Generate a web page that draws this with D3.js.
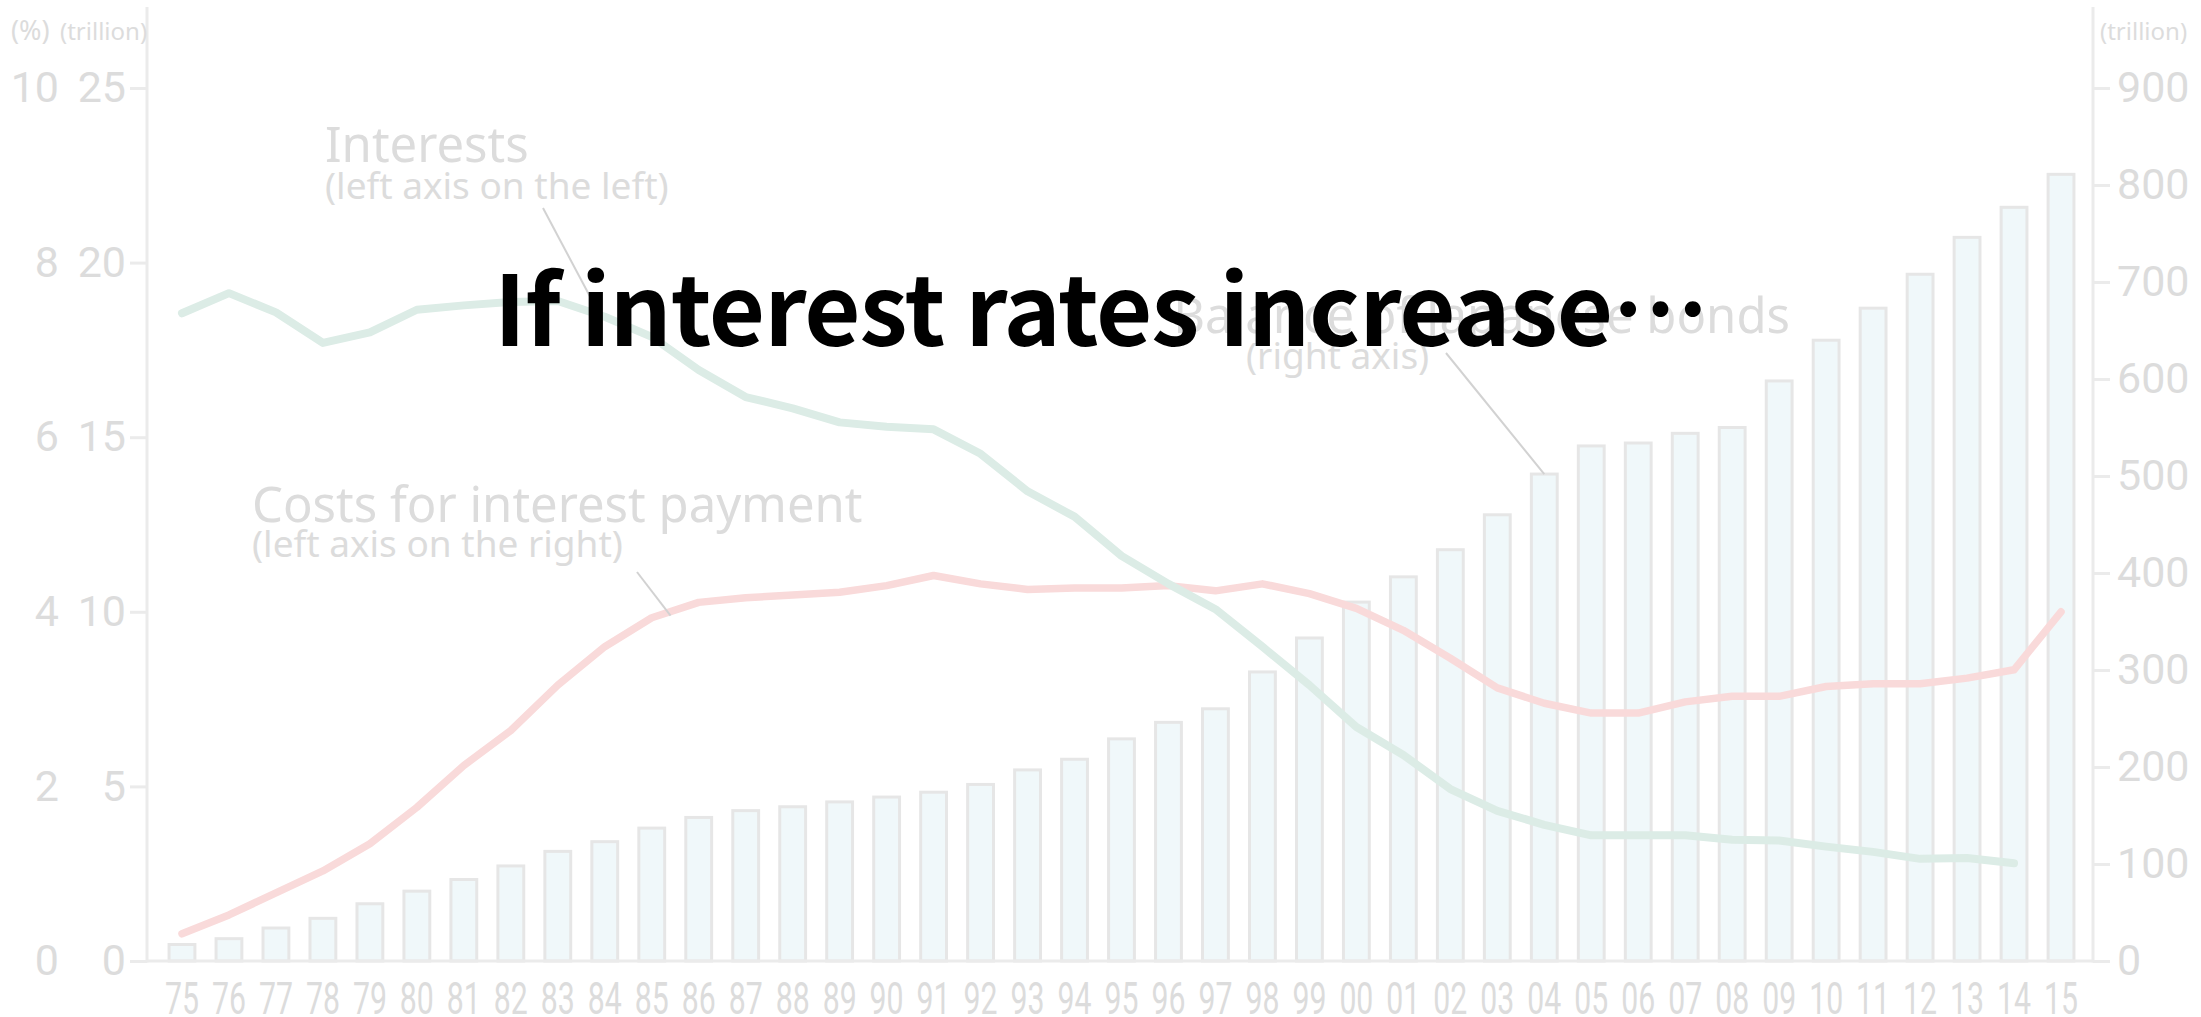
<!DOCTYPE html>
<html>
<head>
<meta charset="utf-8">
<script src="https://cdn.jsdelivr.net/npm/d3@7"></script>
<style>
  body { margin: 0; background: #fff; }
  svg { display: block; }
</style>
</head>
<body>
<div id="chart"></div>
<script>
// fiscal years (two digit labels)
const years = ["75","76","77","78","79","80","81","82","83","84","85","86","87","88","89","90",
  "91","92","93","94","95","96","97","98","99","00","01","02","03","04","05","06","07","08",
  "09","10","11","12","13","14","15"];

// outstanding bonds, trillion (right axis)
const bonds = [17,23,34,44,59,72,84,98,113,123,137,148,155,159,164,169,174,182,197,208,229,
  246,260,298,333,370,396,424,460,502,531,534,544,550,598,640,673,708,746,777,811];

// costs for interest payment, trillion (left axis, right column)
const costs = [0.78,1.32,1.95,2.58,3.36,4.4,5.6,6.6,7.9,9.0,9.83,10.27,10.4,10.48,10.56,10.75,
  11.04,10.8,10.64,10.68,10.68,10.75,10.6,10.8,10.52,10.1,9.47,8.67,7.82,7.38,7.1,7.1,7.42,
  7.58,7.58,7.86,7.94,7.94,8.1,8.34,10.0];

// interest rate, % (left axis, left column) -- no value for 15
const interests = [7.42,7.65,7.43,7.08,7.2,7.46,7.51,7.55,7.56,7.38,7.15,6.77,6.46,6.33,6.17,
  6.12,6.09,5.81,5.38,5.09,4.64,4.32,4.03,3.6,3.16,2.68,2.36,1.97,1.72,1.56,1.44,1.44,1.44,
  1.39,1.38,1.31,1.25,1.17,1.18,1.12];

const trillionTicks = [0,5,10,15,20,25];
const percentTicks = [0,2,4,6,8,10];
const rightTicks = [0,100,200,300,400,500,600,700,800,900];

(function debtChart(){
  const width = 2201, height = 1017;
  const left = 147, right = 2093, bottom = 961, top = 88;
  const gray = "#dcdcdc", axisGray = "#ebebeb";

  const x = d3.scaleBand().domain(years).range([158.5, 2084.5])
      .paddingInner(0.45).paddingOuter(0.225);
  const cx = d => x(d) + x.bandwidth() / 2;
  const yL = d3.scaleLinear().domain([0, 25]).range([bottom, top]);
  const yP = d3.scaleLinear().domain([0, 10]).range([bottom, top]);
  const yR = d3.scaleLinear().domain([0, 900]).range([bottom, top]);

  const svg = d3.select("#chart").append("svg")
      .attr("width", width)
      .attr("height", height)
      .attr("viewBox", [0, 0, width, height]);

  // bars
  svg.append("g")
    .selectAll("rect")
    .data(years)
    .join("rect")
      .attr("x", d => x(d))
      .attr("width", x.bandwidth())
      .attr("y", (d, i) => yR(bonds[i]))
      .attr("height", (d, i) => yR(0) - yR(bonds[i]))
      .attr("fill", "#f0f8fa")
      .attr("stroke", "#e6e6e6")
      .attr("stroke-width", 3);

  // axes
  const styleAxis = g => {
    g.select(".domain").remove();
    g.selectAll(".tick line").attr("stroke", axisGray).attr("stroke-width", 3);
    g.selectAll(".tick text").attr("fill", gray)
      .attr("font-family", "Roboto").attr("font-size", 43);
  };

  svg.append("g")
      .attr("transform", `translate(${left},0)`)
      .call(d3.axisLeft(yL).tickValues(trillionTicks).tickSize(17).tickPadding(4))
      .call(styleAxis);

  svg.append("g")
      .attr("transform", `translate(63,0)`)
      .call(d3.axisLeft(yP).tickValues(percentTicks).tickSize(0).tickPadding(4))
      .call(styleAxis);

  svg.append("g")
      .attr("transform", `translate(${right},0)`)
      .call(d3.axisRight(yR).tickValues(rightTicks).tickSize(17).tickPadding(7))
      .call(styleAxis);

  svg.append("g")
      .attr("transform", `translate(0,${bottom})`)
      .call(d3.axisBottom(x).tickSize(0).tickPadding(21))
      .call(g => g.select(".domain").remove())
      .call(g => g.selectAll(".tick text")
          .attr("fill", gray)
          .attr("font-family", "Roboto")
          .attr("font-size", 45)
          .attr("textLength", 34)
          .attr("lengthAdjust", "spacingAndGlyphs"));

  // axis lines
  const axisLines = svg.append("g").attr("stroke", axisGray).attr("stroke-width", 3);
  axisLines.append("line").attr("x1", left).attr("x2", left).attr("y1", 7).attr("y2", bottom + 1.5);
  axisLines.append("line").attr("x1", right).attr("x2", right).attr("y1", 7).attr("y2", bottom + 1.5);
  axisLines.append("line").attr("x1", left).attr("x2", right).attr("y1", bottom).attr("y2", bottom);

  // unit labels
  const units = svg.append("g").attr("fill", gray).attr("font-family", "Noto Sans").attr("font-size", 24);
  units.append("text").attr("x", 11).attr("y", 40).attr("font-size", 27).text("(%)");
  units.append("text").attr("x", 60).attr("y", 40).text("(trillion)");
  units.append("text").attr("x", 2100).attr("y", 40).text("(trillion)");

  // lines
  const line = d3.line().x(d => cx(d[0]));
  svg.append("path")
      .datum(costs.map((v, i) => [years[i], v]))
      .attr("d", line.y(d => yL(d[1])))
      .attr("fill", "none")
      .attr("stroke", "#f9dada")
      .attr("stroke-width", 7.5)
      .attr("stroke-linecap", "round")
      .attr("stroke-linejoin", "round");

  svg.append("path")
      .datum(interests.map((v, i) => [years[i], v]))
      .attr("d", line.y(d => yP(d[1])))
      .attr("fill", "none")
      .attr("stroke", "#dcece6")
      .attr("stroke-width", 8)
      .attr("stroke-linecap", "round")
      .attr("stroke-linejoin", "round");

  // annotations
  const step = x.step();
  const leaders = svg.append("g").attr("stroke", "#d2d2d2").attr("stroke-width", 2);
  leaders.append("line").attr("x1", 543).attr("y1", 208)
      .attr("x2", cx("83") + step * 0.75).attr("y2", yP(7.5) - 4);
  leaders.append("line").attr("x1", 637).attr("y1", 572)
      .attr("x2", cx("85") + step * 0.4).attr("y2", yL(9.95) + 2);
  leaders.append("line").attr("x1", 1446).attr("y1", 353)
      .attr("x2", cx("04")).attr("y2", yR(bonds[years.indexOf("04")]));

  const notes = svg.append("g").attr("fill", gray).attr("font-family", "Noto Sans");
  notes.append("text").attr("x", 325).attr("y", 162).attr("font-size", 49).text("Interests");
  notes.append("text").attr("x", 325).attr("y", 199).attr("font-size", 37).text("(left axis on the left)");
  notes.append("text").attr("x", 252).attr("y", 522).attr("font-size", 49).text("Costs for interest payment");
  notes.append("text").attr("x", 252).attr("y", 557).attr("font-size", 37).text("(left axis on the right)");
  notes.append("text").attr("x", 1790).attr("y", 333).attr("text-anchor", "end").attr("font-size", 49).text("Balance of Japanese bonds");
  notes.append("text").attr("x", 1246).attr("y", 369).attr("font-size", 37).text("(right axis)");

  // title
  svg.append("text")
      .attr("x", 494)
      .attr("y", 346)
      .attr("lang", "ja")
      .attr("font-family", "Noto Sans CJK JP")
      .attr("font-weight", 700)
      .attr("font-size", 97)
      .attr("letter-spacing", -1)
      .attr("fill", "#000")
      .text("If interest rates increase…");
})();
</script>
</body>
</html>
